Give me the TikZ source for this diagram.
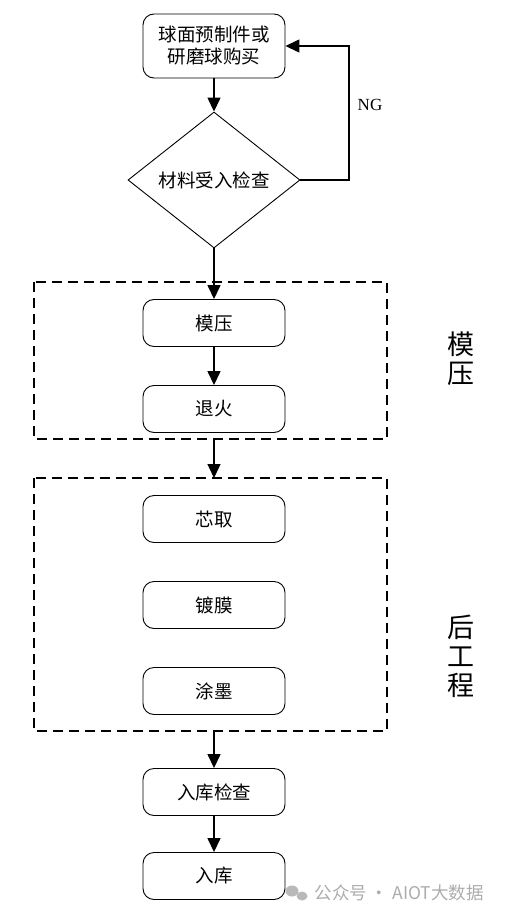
\documentclass[tikz,border=0pt]{standalone}
\usepackage{fontspec}
\setmainfont{Liberation Serif}
\newfontfamily\cjk{Noto Sans CJK SC}
\usetikzlibrary{shapes.geometric,arrows.meta}
\begin{document}
\begin{tikzpicture}[x=1pt,y=-1pt,
  procbox/.style={draw=black,line width=0.9pt,rounded corners=11pt,minimum width=142pt,minimum height=47pt,inner sep=0pt,font=\cjk\fontsize{18.5}{22}\selectfont,align=center},
  decbox/.style={draw=black,line width=0.9pt,diamond,minimum width=172pt,minimum height=136pt,inner sep=0pt,font=\cjk\fontsize{18.5}{22}\selectfont},
  flow/.style={line width=1.4pt,-{Triangle[length=14pt,width=13pt]}},
  grp/.style={draw=black,line width=1.4pt,dash pattern=on 10pt off 6pt},
  side/.style={font=\cjk\fontsize{27}{29}\selectfont,align=center}]
\useasboundingbox (0,0) rectangle (509,920);
\node[procbox,minimum height=64pt] (buy) at (214,46) {球面预制件或\\研磨球购买};
\node[decbox] (chk) at (214,180) {材料受入检查};
\node[procbox] (mold) at (214,323) {模压};
\node[procbox] (anneal) at (214,409) {退火};
\node[procbox] (core) at (214,519) {芯取};
\node[procbox] (coat) at (214,605) {镀膜};
\node[procbox] (ink) at (214,691) {涂墨};
\node[procbox] (fchk) at (214,792) {入库检查};
\node[procbox] (store) at (214,876) {入库};
\draw[grp] (34,282) rectangle (387,439);
\draw[grp] (34,478) rectangle (387,731);
\coordinate (g1b) at (214,439);
\coordinate (g1t) at (214,478);
\coordinate (g2b) at (214,731);
\coordinate (ngc) at (349,180);
\draw[flow] (buy) -- (chk);
\draw[flow] (chk) -- (mold);
\draw[flow] (mold) -- (anneal);
\draw[flow] (g1b) -- (g1t);
\draw[flow] (g2b) -- (fchk);
\draw[flow] (fchk) -- (store);
\draw[flow] (chk.east) -- (ngc) |- (buy.east);
\node[font=\fontsize{17}{20}\selectfont] (ng) at (370,105) {NG};
\node[side] (lab1) at (461,359) {模\\压};
\node[side] (lab2) at (461,656) {后\\工\\程};
\fill[gray!55] (292,891) ellipse (6.5pt and 5.5pt);
\fill[gray!55] (302,896) ellipse (5.5pt and 4.5pt);
\node[font=\cjk\fontsize{17.5}{20}\selectfont,text=gray!65,anchor=west] (wm) at (311,893) {公众号 · AIOT大数据};
\end{tikzpicture}
\end{document}
